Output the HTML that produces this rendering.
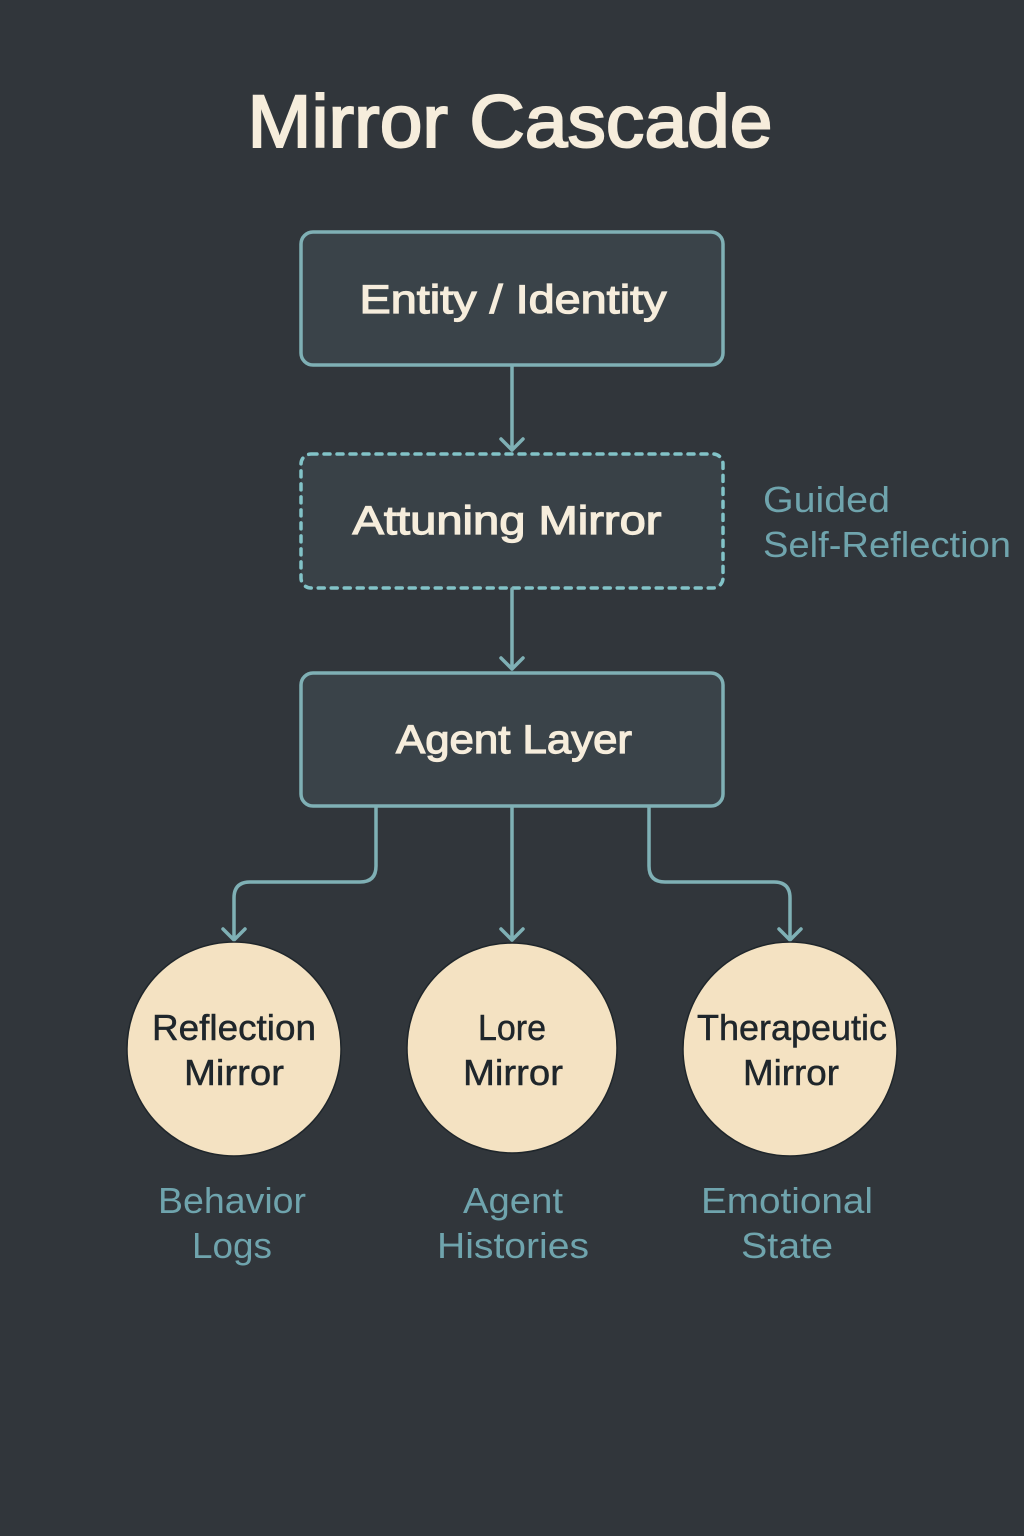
<!DOCTYPE html>
<html><head><meta charset="utf-8"><style>
html,body{margin:0;padding:0;background:#31363b;}
svg{display:block}
text{font-family:"Liberation Sans","DejaVu Sans",sans-serif;}
</style></head><body>
<svg width="1024" height="1536" viewBox="0 0 1024 1536" xmlns="http://www.w3.org/2000/svg">
<rect width="1024" height="1536" fill="#31363b"/>
<text x="510" y="147" font-size="74" fill="#f6eddc" stroke="#f6eddc" stroke-width="2" text-anchor="middle" textLength="525" lengthAdjust="spacingAndGlyphs">Mirror Cascade</text>

<g stroke="#7fb0b5" stroke-width="3.5" fill="none" stroke-linecap="round" stroke-linejoin="round">
<rect x="301" y="232" width="422" height="133" rx="12" fill="#3a4349"/>
<rect x="301" y="454" width="422" height="134" rx="10" fill="#394147" stroke-dasharray="6 7" stroke="#82c3c8"/>
<rect x="301" y="673" width="422" height="133" rx="12" fill="#3a4349"/>
<path d="M512 366 V450 M501 439 L512 450 L523 439"/>
<path d="M512 589 V669 M501 658 L512 669 L523 658"/>
<path d="M512 807 V940 M501 929 L512 940 L523 929"/>
<path d="M376 807 V866 Q376 882 360 882 H250 Q234 882 234 898 V940 M223 929 L234 940 L245 929"/>
<path d="M649 807 V866 Q649 882 665 882 H774 Q790 882 790 898 V940 M779 929 L790 940 L801 929"/>
</g>

<g fill="#f6eddc" stroke="#f6eddc" stroke-width="1.2" font-size="40" text-anchor="middle">
<text x="513" y="313" textLength="307" lengthAdjust="spacingAndGlyphs">Entity / Identity</text>
<text x="507" y="534" textLength="309" lengthAdjust="spacingAndGlyphs">Attuning Mirror</text>
<text x="514" y="753" textLength="236" lengthAdjust="spacingAndGlyphs">Agent Layer</text>
</g>

<g fill="#f4e2c2" stroke="#1f262b" stroke-width="1.5">
<circle cx="234" cy="1049" r="107"/>
<circle cx="512" cy="1048" r="105"/>
<circle cx="790" cy="1049" r="107"/>
</g>
<g fill="#1f262b" stroke="#1f262b" stroke-width="0.5" font-size="36" text-anchor="middle">
<text x="234" y="1040" textLength="164" lengthAdjust="spacingAndGlyphs">Reflection</text>
<text x="234" y="1085" textLength="100" lengthAdjust="spacingAndGlyphs">Mirror</text>
<text x="512" y="1040" textLength="68" lengthAdjust="spacingAndGlyphs">Lore</text>
<text x="513" y="1085" textLength="100" lengthAdjust="spacingAndGlyphs">Mirror</text>
<text x="792" y="1040" textLength="190" lengthAdjust="spacingAndGlyphs">Therapeutic</text>
<text x="791" y="1085" textLength="96" lengthAdjust="spacingAndGlyphs">Mirror</text>
</g>

<g fill="#6fa4ad" font-size="36">
<text x="763" y="512" textLength="127" lengthAdjust="spacingAndGlyphs">Guided</text>
<text x="763" y="557" textLength="248" lengthAdjust="spacingAndGlyphs">Self-Reflection</text>
</g>
<g fill="#6fa4ad" font-size="36" text-anchor="middle">
<text x="232" y="1213" textLength="148" lengthAdjust="spacingAndGlyphs">Behavior</text>
<text x="232" y="1258" textLength="80" lengthAdjust="spacingAndGlyphs">Logs</text>
<text x="513" y="1213" textLength="100" lengthAdjust="spacingAndGlyphs">Agent</text>
<text x="513" y="1258" textLength="152" lengthAdjust="spacingAndGlyphs">Histories</text>
<text x="787" y="1213" textLength="172" lengthAdjust="spacingAndGlyphs">Emotional</text>
<text x="787" y="1258" textLength="92" lengthAdjust="spacingAndGlyphs">State</text>
</g>
</svg>
</body></html>
